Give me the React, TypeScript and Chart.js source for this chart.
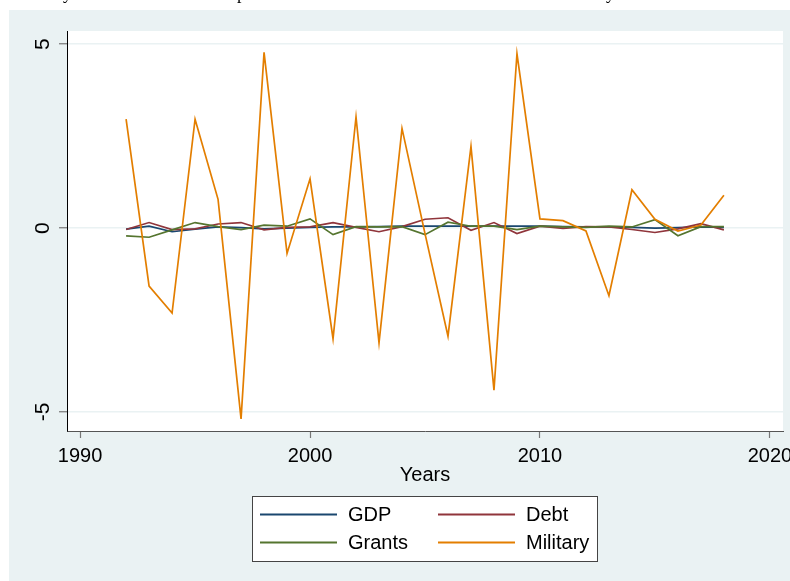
import React, { useEffect, useRef } from "react";
import { Chart, registerables } from "chart.js";

Chart.register(...registerables);

// ---------- data ----------
const years = [
  1992, 1993, 1994, 1995, 1996, 1997, 1998, 1999, 2000, 2001, 2002, 2003, 2004, 2005,
  2006, 2007, 2008, 2009, 2010, 2011, 2012, 2013, 2014, 2015, 2016, 2017, 2018,
];
const gdp = [
  -0.03, 0.05, -0.1, -0.03, 0.03, 0.01, -0.02, 0.0, 0.02, 0.03, 0.03, 0.04, 0.05, 0.05,
  0.05, 0.05, 0.05, 0.05, 0.05, 0.04, 0.03, 0.03, 0.02, 0.0, 0.01, 0.03, 0.02,
];
const debt = [
  -0.04, 0.15, -0.04, -0.02, 0.11, 0.15, -0.05, 0.02, 0.03, 0.15, 0.02, -0.1, 0.04, 0.24,
  0.28, -0.06, 0.15, -0.15, 0.05, -0.01, 0.04, 0.03, -0.04, -0.12, -0.02, 0.12, -0.05,
];
const grants = [
  -0.21, -0.25, -0.05, 0.15, 0.04, -0.04, 0.08, 0.05, 0.25, -0.18, 0.04, 0.03, 0.04, -0.18,
  0.16, 0.05, 0.05, -0.04, 0.05, 0.03, 0.02, 0.05, 0.03, 0.23, -0.21, 0.04, 0.04,
];
const military = [
  2.96, -1.58, -2.31, 2.96, 0.78, -5.19, 4.78, -0.69, 1.34, -3.01, 3.02, -3.12, 2.71, -0.15,
  -2.94, 2.22, -4.41, 4.74, 0.25, 0.2, -0.08, -1.84, 1.04, 0.24, -0.08, 0.08, 0.89,
];
const seriesNames = ["GDP", "Debt", "Grants", "Military"];
const xTicks = [1990, 2000, 2010, 2020];
const yTicks = [-5, 0, 5];
const xAxisTitle = "Years";

// ---------- style ----------
const FONT = '"Liberation Sans", Arial, Helvetica, sans-serif';
const BG = "#EAF2F3";
const COLORS = ["#1A476F", "#90353B", "#55752F", "#E37E00"];

const backgroundPlugin = {
  id: "stataBackground",
  beforeDraw(chart: any) {
    const { ctx, width, height, chartArea } = chart;
    ctx.save();
    ctx.fillStyle = "#ffffff";
    ctx.fillRect(0, 0, width, height);
    ctx.fillStyle = BG;
    ctx.fillRect(9, 10, width - 9, height - 10);
    ctx.fillStyle = "#ffffff";
    ctx.fillRect(
      chartArea.left,
      chartArea.top,
      chartArea.right - chartArea.left,
      chartArea.bottom - chartArea.top
    );
    // descenders of the cut-off document text line above the figure
    ctx.fillStyle = "#000";
    ctx.font = '18px "Liberation Serif", "Times New Roman", serif';
    ctx.textBaseline = "alphabetic";
    ctx.fillText("y", 63, -1);
    ctx.fillText("p", 237, -1);
    ctx.fillText("y", 606, -1);
    ctx.restore();
  },
};

const legendPlugin = {
  id: "boxLegend",
  afterDraw(chart: any) {
    const { ctx } = chart;
    ctx.save();
    ctx.fillStyle = "#ffffff";
    ctx.fillRect(252.5, 496.5, 345, 65);
    ctx.strokeStyle = "#444";
    ctx.lineWidth = 1;
    ctx.strokeRect(252.5, 496.5, 345, 65);
    const cols = [260, 438];
    const rows = [514.5, 542.5];
    chart.data.datasets.forEach((d: any, i: number) => {
      const x0 = cols[i % 2];
      const y0 = rows[Math.floor(i / 2)];
      ctx.strokeStyle = d.borderColor;
      ctx.lineWidth = 2;
      ctx.beginPath();
      ctx.moveTo(x0, y0);
      ctx.lineTo(x0 + 77, y0);
      ctx.stroke();
      ctx.fillStyle = "#000";
      ctx.font = `20px ${FONT}`;
      ctx.textBaseline = "middle";
      ctx.textAlign = "left";
      ctx.fillText(d.label, x0 + 88, y0 + 1);
    });
    ctx.restore();
  },
};

export default function App() {
  const ref = useRef<HTMLCanvasElement | null>(null);

  useEffect(() => {
    if (!ref.current) return;
    const series = [gdp, debt, grants, military];
    const chart = new Chart(ref.current, {
      type: "line",
      data: {
        datasets: series.map((s, k) => ({
          label: seriesNames[k],
          data: years.map((yr, i) => ({ x: yr, y: s[i] })),
          borderColor: COLORS[k],
          backgroundColor: COLORS[k],
          borderWidth: 1.7,
          fill: false,
          order: 4 - k,
        })),
      },
      options: {
        animation: false,
        responsive: false,
        maintainAspectRatio: false,
        devicePixelRatio: 1,
        layout: { padding: { left: 9, top: 31, right: 7, bottom: 90 } },
        elements: {
          point: { radius: 0, hoverRadius: 0 },
          line: { tension: 0 },
        },
        plugins: {
          legend: { display: false },
          tooltip: { enabled: false },
        },
        scales: {
          x: {
            type: "linear",
            min: 1989.43,
            max: 2020.57,
            afterBuildTicks: (s: any) => {
              s.ticks = xTicks.map((v) => ({ value: v }));
            },
            afterFit: (s: any) => {
              s.height = 60;
              s.paddingLeft = 0;
              s.paddingRight = 0;
            },
            grid: {
              drawOnChartArea: false,
              tickLength: 7,
              tickColor: "#777",
              tickWidth: 1.2,
            },
            border: { color: "#555", width: 1 },
            ticks: {
              font: { family: FONT, size: 20 },
              color: "#000",
              padding: 6,
              maxRotation: 0,
              minRotation: 0,
              autoSkip: false,
              callback: (v: any) => String(v),
            },
            title: {
              display: true,
              text: xAxisTitle,
              font: { family: FONT, size: 20 },
              color: "#000",
              padding: { top: 0, bottom: 3.5 },
            },
          },
          y: {
            type: "linear",
            min: -5.52,
            max: 5.36,
            afterBuildTicks: (s: any) => {
              s.ticks = yTicks.map((v) => ({ value: v }));
            },
            afterFit: (s: any) => {
              s.width = 58;
              s.paddingTop = 0;
              s.paddingBottom = 0;
            },
            grid: {
              color: BG,
              lineWidth: 1.5,
              tickLength: 8,
              tickColor: "#777",
              tickWidth: 1.2,
            },
            border: { color: "#000", width: 1 },
            ticks: {
              font: { family: FONT, size: 21 },
              color: "#000",
              minRotation: 90,
              maxRotation: 90,
              crossAlign: "center",
              padding: 6,
              autoSkip: false,
              callback: (v: any) => String(v),
            },
          },
        },
      } as any,
      plugins: [backgroundPlugin, legendPlugin],
    });
    return () => chart.destroy();
  }, []);

  return (
    <div style={{ position: "fixed", left: 0, top: 0, width: 790, height: 581 }}>
      <canvas ref={ref} width={790} height={581} style={{ display: "block" }} />
    </div>
  );
}
